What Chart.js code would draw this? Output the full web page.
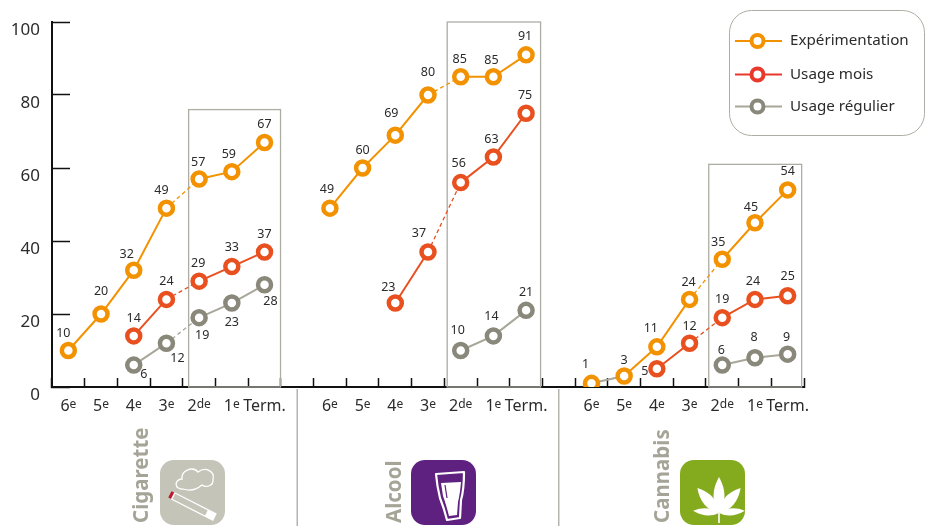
<!DOCTYPE html>
<html>
<head>
<meta charset="utf-8">
<style>
  html, body { margin: 0; padding: 0; background: #fff; }
  canvas { display: block; }
</style>
<script src="https://cdn.jsdelivr.net/npm/chart.js@4"></script>
</head>
<body>
<canvas id="chart" width="927" height="526"></canvas>
<script>
const grades = ["6e", "5e", "4e", "3e", "2de", "1e", "Term."];
const categories = [...grades, "", ...grades, "", ...grades];

const experimentation = [10, 20, 32, 49, 57, 59, 67, null, 49, 60, 69, 80, 85, 85, 91, null, 1, 3, 11, 24, 35, 45, 54];
const usageMois = [null, null, 14, 24, 29, 33, 37, null, null, null, 23, 37, 56, 63, 75, null, null, null, 5, 12, 19, 24, 25];
const usageRegulier = [null, null, 6, 12, 19, 23, 28, null, null, null, null, null, 10, 14, 21, null, null, null, null, null, 6, 8, 9];

const yTicks = [0, 20, 40, 60, 80, 100];
const substances = ["Cigarette", "Alcool", "Cannabis"];
const boxTops = [76, 100, 61];

const FONT = '"Noto Sans", sans-serif';
const ORANGE = "#f39200";
const RED = "#e9501f";
const GREY = "#8a887a";
const GREY_LINE = "#a8a799";
const FRAME = "#aeada3";
const INK = "#2b2b2b";

// frames are not quite on the tick marks: left and right inset per block, in pixels
const boxLeftInset = [10.5, 13.5, 13.5];
const boxRightInset = [16, 14.5, 14];

// nudges of the value labels relative to their point, in pixels, one per category slot
const orangeNudge = [[-5,-17],[0,-23],[-7,-16],[-5,-18],[-1,-17],[-3,-17],[0,-18],null,[-3,-19],[0,-18],[-4,-22],[0,-23],[-1,-17],[-2,-16],[-1,-18],null,[-6,-19],[0,-16],[-6,-18],[-1,-17],[-4,-17],[-4,-15],[0,-18]];
const redNudge = [null,null,[0,-17],[0,-18],[-1,-18],[0,-19],[0,-18],null,null,null,[-7,-16],[-9,-19],[-2,-19],[-2,-18],[-1,-18],null,null,null,[-12,3],[0,-17],[0,-18],[-2,-18],[0,-19]];
const greyNudge = [null,null,[10,9],[11,15],[3,18],[0,19],[6,17],null,null,null,null,null,[-3,-20],[-2,-19],[0,-18],null,null,null,null,null,[-1,-15],[-1,-20],[-1,-17]];
const nudges = [orangeNudge, redNudge, greyNudge];

// the 3e -> 2de link is dashed in every block
const dashedFrom = [3, 11, 19];

function makeDataset(label, data, lineColor, ringColor) {
  return {
    label: label,
    data: data,
    borderColor: lineColor,
    borderWidth: 2,
    pointRadius: 6.5,
    pointHoverRadius: 6.5,
    pointBorderWidth: 4.5,
    pointBorderColor: ringColor,
    pointBackgroundColor: "#fff",
    tension: 0,
    spanGaps: false,
    segment: {
      borderDash: (ctx) => (dashedFrom.includes(ctx.p0DataIndex) ? [4, 3] : undefined),
      borderWidth: (ctx) => (dashedFrom.includes(ctx.p0DataIndex) ? 1.3 : undefined),
      // the first cannabis link is printed grey in the original
      borderColor: (ctx) => (label === "Expérimentation" && ctx.p0DataIndex === 16 ? GREY_LINE : undefined),
    },
  };
}

function drawCigaretteIcon(ctx, x, y) {
  ctx.save();
  ctx.fillStyle = "#c5c4b8";
  ctx.beginPath();
  ctx.roundRect(x, y, 65, 65, 14);
  ctx.fill();
  // smoke
  ctx.strokeStyle = "#fff";
  ctx.lineWidth = 1.3;
  ctx.beginPath();
  ctx.moveTo(x + 23, y + 29);
  ctx.bezierCurveTo(x + 14, y + 30, x + 14, y + 19, x + 22, y + 19);
  ctx.bezierCurveTo(x + 21, y + 10, x + 33, y + 6, x + 38, y + 12);
  ctx.bezierCurveTo(x + 46, y + 6, x + 55, y + 12, x + 53, y + 19);
  ctx.bezierCurveTo(x + 54, y + 26, x + 46, y + 28, x + 42, y + 25);
  ctx.bezierCurveTo(x + 36, y + 30, x + 29, y + 31, x + 23, y + 29);
  ctx.stroke();
  // cigarette
  ctx.translate(x + 15, y + 33);
  ctx.rotate(27 * Math.PI / 180);
  ctx.strokeStyle = "#fff";
  ctx.lineWidth = 1.2;
  ctx.strokeRect(0, 0, 46, 7);
  ctx.fillStyle = "#fff";
  ctx.fillRect(37, 0, 9, 7);
  ctx.fillStyle = "#c0182d";
  ctx.fillRect(-4, 0, 3, 7);
  ctx.restore();
}

function drawGlassIcon(ctx, x, y) {
  ctx.save();
  ctx.fillStyle = "#5f2180";
  ctx.beginPath();
  ctx.roundRect(x, y, 65, 65, 14);
  ctx.fill();
  ctx.strokeStyle = "#fff";
  ctx.lineWidth = 2.2;
  ctx.lineJoin = "round";
  ctx.beginPath();
  ctx.moveTo(x + 25, y + 14);
  ctx.lineTo(x + 53, y + 12);
  ctx.quadraticCurveTo(x + 53, y + 30, x + 50, y + 40);
  ctx.lineTo(x + 49, y + 58);
  ctx.lineTo(x + 36, y + 60);
  ctx.quadraticCurveTo(x + 33, y + 48, x + 29, y + 38);
  ctx.quadraticCurveTo(x + 26, y + 26, x + 25, y + 14);
  ctx.closePath();
  ctx.stroke();
  // beer
  ctx.fillStyle = "#fff";
  ctx.beginPath();
  ctx.moveTo(x + 30, y + 23);
  ctx.lineTo(x + 50, y + 22);
  ctx.quadraticCurveTo(x + 49, y + 34, x + 47, y + 42);
  ctx.lineTo(x + 46, y + 55);
  ctx.lineTo(x + 38, y + 56);
  ctx.quadraticCurveTo(x + 35, y + 44, x + 32, y + 36);
  ctx.closePath();
  ctx.fill();
  ctx.strokeStyle = "#5f2180";
  ctx.lineWidth = 1.2;
  ctx.beginPath();
  ctx.moveTo(x + 34, y + 25);
  ctx.lineTo(x + 36, y + 38);
  ctx.stroke();
  ctx.restore();
}

function drawLeafIcon(ctx, x, y) {
  ctx.save();
  ctx.fillStyle = "#84aa1e";
  ctx.beginPath();
  ctx.roundRect(x, y, 65, 65, 14);
  ctx.fill();
  const cx = x + 39;
  const cy = y + 53;
  ctx.fillStyle = "#fff";
  const lobes = [[0, 36, 11], [-41, 33, 11], [41, 33, 11], [-85, 26, 7], [85, 26, 7]];
  lobes.forEach(([angle, len, w]) => {
    ctx.save();
    ctx.translate(cx, cy);
    ctx.rotate(angle * Math.PI / 180);
    ctx.beginPath();
    ctx.moveTo(0, 0);
    ctx.quadraticCurveTo(-w, -len * 0.45, 0, -len);
    ctx.quadraticCurveTo(w, -len * 0.45, 0, 0);
    ctx.fill();
    ctx.restore();
  });
  ctx.fillRect(cx - 0.8, cy, 1.6, 10);
  ctx.restore();
}

// draws "2de" as a digit plus a raised suffix
function drawGradeLabel(ctx, text, px, py) {
  const m = text.match(/^(\d)(\w+)$/);
  ctx.textBaseline = "alphabetic";
  ctx.textAlign = "left";
  if (!m) {
    ctx.font = "16px " + FONT;
    ctx.fillText(text, px - ctx.measureText(text).width / 2, py);
    return;
  }
  ctx.font = "16px " + FONT;
  const w1 = ctx.measureText(m[1]).width;
  ctx.font = "12px " + FONT;
  const w2 = ctx.measureText(m[2]).width;
  const left = px - (w1 + w2) / 2;
  ctx.font = "16px " + FONT;
  ctx.fillText(m[1], left, py);
  ctx.font = "12px " + FONT;
  ctx.fillText(m[2], left + w1, py - 3);
}

const decorPlugin = {
  id: "decor",
  beforeDatasetsDraw(chart) {
    const { ctx, scales } = chart;
    const x = scales.x;
    const y = scales.y;
    ctx.save();
    // frames round the lycée years
    ctx.strokeStyle = FRAME;
    ctx.lineWidth = 1.3;
    boxTops.forEach((top, i) => {
      const first = x.getPixelForValue(4 + i * 8) - boxLeftInset[i];
      const last = x.getPixelForValue(6 + i * 8) + boxRightInset[i];
      ctx.strokeRect(first, y.getPixelForValue(top), last - first, y.getPixelForValue(0) - y.getPixelForValue(top));
    });
    ctx.restore();
  },
  afterDraw(chart) {
    const { ctx, scales } = chart;
    const x = scales.x;

    // grade labels under the axis
    ctx.save();
    ctx.fillStyle = INK;
    categories.forEach((c, i) => {
      if (c) drawGradeLabel(ctx, c, x.getPixelForValue(i), 411);
    });
    ctx.restore();

    ctx.save();
    // separators
    ctx.strokeStyle = "#a9a9a3";
    ctx.lineWidth = 1.3;
    [7, 15].forEach((slot) => {
      const px = x.getPixelForValue(slot);
      ctx.beginPath();
      ctx.moveTo(px, 389);
      ctx.lineTo(px, 526);
      ctx.stroke();
    });
    // rotated substance names
    ctx.fillStyle = "#a5a497";
    ctx.font = "bold 20.5px " + FONT;
    ctx.textAlign = "left";
    ctx.textBaseline = "middle";
    [142, 395, 663].forEach((px, i) => {
      ctx.save();
      ctx.translate(px, 523);
      ctx.rotate(-Math.PI / 2);
      ctx.fillText(substances[i], 0, 0);
      ctx.restore();
    });
    ctx.restore();
    drawCigaretteIcon(ctx, 160, 460);
    drawGlassIcon(ctx, 411, 460);
    drawLeafIcon(ctx, 680, 460);

    // value labels
    ctx.save();
    ctx.fillStyle = INK;
    ctx.font = "12.5px " + FONT;
    ctx.textAlign = "center";
    ctx.textBaseline = "middle";
    chart.data.datasets.forEach((ds, d) => {
      const meta = chart.getDatasetMeta(d);
      ds.data.forEach((v, i) => {
        if (v === null) return;
        const pt = meta.data[i];
        const n = nudges[d][i];
        ctx.fillText(String(v), pt.x + n[0], pt.y + n[1]);
      });
    });
    ctx.restore();

    // legend
    ctx.save();
    ctx.strokeStyle = FRAME;
    ctx.lineWidth = 1;
    ctx.beginPath();
    ctx.roundRect(729.5, 10.5, 195, 125, 22);
    ctx.stroke();
    const legendY = [41, 74.5, 106.5];
    const legendLine = [ORANGE, "#e9392c", GREY_LINE];
    const legendRing = [ORANGE, "#e9392c", GREY];
    ctx.font = "15.2px " + FONT;
    ctx.textAlign = "left";
    ctx.textBaseline = "middle";
    chart.data.datasets.forEach((ds, d) => {
      ctx.strokeStyle = legendLine[d];
      ctx.lineWidth = 2;
      ctx.beginPath();
      ctx.moveTo(735, legendY[d]);
      ctx.lineTo(782, legendY[d]);
      ctx.stroke();
      ctx.beginPath();
      ctx.arc(757.5, legendY[d], 6, 0, Math.PI * 2);
      ctx.fillStyle = "#fff";
      ctx.fill();
      ctx.strokeStyle = legendRing[d];
      ctx.lineWidth = 4;
      ctx.stroke();
      ctx.fillStyle = INK;
      ctx.fillText(ds.label, 790, legendY[d]);
    });
    ctx.restore();
  },
};

new Chart(document.getElementById("chart").getContext("2d"), {
  type: "line",
  data: {
    labels: categories,
    datasets: [
      makeDataset("Expérimentation", experimentation, ORANGE, ORANGE),
      makeDataset("Usage mois", usageMois, RED, RED),
      makeDataset("Usage régulier", usageRegulier, GREY_LINE, GREY),
    ],
  },
  options: {
    responsive: false,
    animation: false,
    devicePixelRatio: 1,
    layout: { padding: { top: 22, right: 123, left: 0, bottom: 0 } },
    plugins: { legend: { display: false }, tooltip: { enabled: false } },
    scales: {
      x: {
        offset: true,
        afterFit: (s) => {
          s.height = 139;
          s.paddingLeft = 0;
          s.paddingRight = 0;
        },
        border: { color: "#111", width: 2 },
        grid: {
          offset: true,
          drawOnChartArea: false,
          drawTicks: true,
          tickLength: -9,
          tickWidth: 1.5,
          tickColor: "#111",
        },
        ticks: { display: false, autoSkip: false, maxRotation: 0 },
      },
      y: {
        min: 0,
        max: 100,
        afterFit: (s) => {
          s.width = 52;
          s.paddingTop = 0;
          s.paddingBottom = 0;
        },
        afterBuildTicks: (s) => { s.ticks = yTicks.map((v) => ({ value: v })); },
        border: { color: "#111", width: 2 },
        grid: {
          drawOnChartArea: false,
          drawTicks: true,
          tickLength: -18,
          tickWidth: 1.5,
          tickColor: "#111",
        },
        ticks: {
          padding: 30,
          labelOffset: 8,
          color: INK,
          font: { family: FONT, size: 17 },
        },
      },
    },
  },
  plugins: [decorPlugin],
});
</script>
</body>
</html>
